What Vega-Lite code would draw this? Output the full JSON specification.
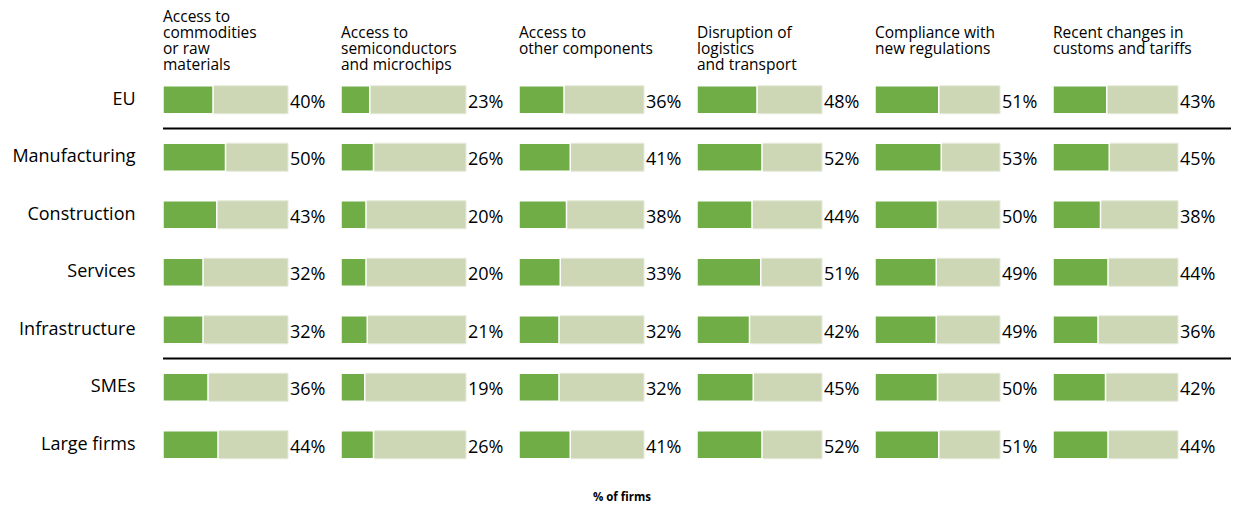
{
  "$schema": "https://vega.github.io/schema/vega-lite/v6.json",
  "padding": {"left": 11, "top": 9, "right": 0, "bottom": 2},
  "background": "white",
  "bounds": "flush",
  "title": {
    "text": "% of firms",
    "orient": "bottom",
    "anchor": "middle",
    "frame": "bounds",
    "font": "Open Sans",
    "fontSize": 11.5,
    "fontWeight": "bold",
    "color": "#000000",
    "offset": 18
  },
  "data": {
    "values": [
      {"topic": "Access to|commodities|or raw|materials", "row": "EU", "value": 0.40},
      {"topic": "Access to|commodities|or raw|materials", "row": "Manufacturing", "value": 0.50},
      {"topic": "Access to|commodities|or raw|materials", "row": "Construction", "value": 0.43},
      {"topic": "Access to|commodities|or raw|materials", "row": "Services", "value": 0.32},
      {"topic": "Access to|commodities|or raw|materials", "row": "Infrastructure", "value": 0.32},
      {"topic": "Access to|commodities|or raw|materials", "row": "SMEs", "value": 0.36},
      {"topic": "Access to|commodities|or raw|materials", "row": "Large firms", "value": 0.44},
      {"topic": "Access to|semiconductors|and microchips", "row": "EU", "value": 0.23},
      {"topic": "Access to|semiconductors|and microchips", "row": "Manufacturing", "value": 0.26},
      {"topic": "Access to|semiconductors|and microchips", "row": "Construction", "value": 0.20},
      {"topic": "Access to|semiconductors|and microchips", "row": "Services", "value": 0.20},
      {"topic": "Access to|semiconductors|and microchips", "row": "Infrastructure", "value": 0.21},
      {"topic": "Access to|semiconductors|and microchips", "row": "SMEs", "value": 0.19},
      {"topic": "Access to|semiconductors|and microchips", "row": "Large firms", "value": 0.26},
      {"topic": "Access to|other components", "row": "EU", "value": 0.36},
      {"topic": "Access to|other components", "row": "Manufacturing", "value": 0.41},
      {"topic": "Access to|other components", "row": "Construction", "value": 0.38},
      {"topic": "Access to|other components", "row": "Services", "value": 0.33},
      {"topic": "Access to|other components", "row": "Infrastructure", "value": 0.32},
      {"topic": "Access to|other components", "row": "SMEs", "value": 0.32},
      {"topic": "Access to|other components", "row": "Large firms", "value": 0.41},
      {"topic": "Disruption of|logistics|and transport", "row": "EU", "value": 0.48},
      {"topic": "Disruption of|logistics|and transport", "row": "Manufacturing", "value": 0.52},
      {"topic": "Disruption of|logistics|and transport", "row": "Construction", "value": 0.44},
      {"topic": "Disruption of|logistics|and transport", "row": "Services", "value": 0.51},
      {"topic": "Disruption of|logistics|and transport", "row": "Infrastructure", "value": 0.42},
      {"topic": "Disruption of|logistics|and transport", "row": "SMEs", "value": 0.45},
      {"topic": "Disruption of|logistics|and transport", "row": "Large firms", "value": 0.52},
      {"topic": "Compliance with|new regulations", "row": "EU", "value": 0.51},
      {"topic": "Compliance with|new regulations", "row": "Manufacturing", "value": 0.53},
      {"topic": "Compliance with|new regulations", "row": "Construction", "value": 0.50},
      {"topic": "Compliance with|new regulations", "row": "Services", "value": 0.49},
      {"topic": "Compliance with|new regulations", "row": "Infrastructure", "value": 0.49},
      {"topic": "Compliance with|new regulations", "row": "SMEs", "value": 0.50},
      {"topic": "Compliance with|new regulations", "row": "Large firms", "value": 0.51},
      {"topic": "Recent changes in|customs and tariffs", "row": "EU", "value": 0.43},
      {"topic": "Recent changes in|customs and tariffs", "row": "Manufacturing", "value": 0.45},
      {"topic": "Recent changes in|customs and tariffs", "row": "Construction", "value": 0.38},
      {"topic": "Recent changes in|customs and tariffs", "row": "Services", "value": 0.44},
      {"topic": "Recent changes in|customs and tariffs", "row": "Infrastructure", "value": 0.36},
      {"topic": "Recent changes in|customs and tariffs", "row": "SMEs", "value": 0.42},
      {"topic": "Recent changes in|customs and tariffs", "row": "Large firms", "value": 0.44}
    ]
  },
  "facet": {
    "column": {
      "field": "topic",
      "type": "nominal",
      "sort": [
        "Access to|commodities|or raw|materials",
        "Access to|semiconductors|and microchips",
        "Access to|other components",
        "Disruption of|logistics|and transport",
        "Compliance with|new regulations",
        "Recent changes in|customs and tariffs"
      ],
      "title": null,
      "header": {
        "labelOrient": "top",
        "labelAlign": "left",
        "labelAnchor": "start",
        "labelExpr": "length(split(datum.value, '|')) == 2 ? [split(datum.value, '|')[0], split(datum.value, '|')[1], ' '] : split(datum.value, '|')",
        "labelFont": "Open Sans",
        "labelFontSize": 15.5,
        "labelLineHeight": 16.3,
        "labelColor": "#000000",
        "labelPadding": -3
      }
    }
  },
  "spacing": 0,
  "resolve": {"scale": {"x": "shared", "y": "shared"}},
  "spec": {
    "width": 178,
    "height": 402.5,
    "encoding": {
      "y": {
        "field": "row",
        "type": "nominal",
        "sort": ["EU", "Manufacturing", "Construction", "Services", "Infrastructure", "SMEs", "Large firms"],
        "scale": {"paddingInner": 0, "paddingOuter": 0},
        "axis": {
          "title": null,
          "domain": false,
          "ticks": false,
          "labelFont": "Open Sans",
          "labelFontSize": 18,
          "labelColor": "#000000",
          "labelPadding": 28
        }
      }
    },
    "layer": [
      {
        "mark": {"type": "bar", "height": 28, "color": "#CDD7B5", "stroke": "#E4EADA", "strokeWidth": 1},
        "encoding": {
          "x": {"datum": 0, "type": "quantitative", "scale": {"domain": [0, 1.424], "nice": false, "zero": true}, "axis": null},
          "x2": {"datum": 1}
        }
      },
      {
        "mark": {"type": "bar", "height": 28, "color": "#70AD47", "stroke": "white", "strokeWidth": 1.5},
        "encoding": {
          "x": {"field": "value", "type": "quantitative", "axis": null},
          "x2": {"datum": 0}
        }
      },
      {
        "mark": {"type": "text", "align": "left", "baseline": "middle", "dx": 2, "dy": 3, "font": "Open Sans", "fontSize": 18, "color": "#000000"},
        "encoding": {
          "x": {"datum": 1},
          "text": {"field": "value", "type": "quantitative", "format": ".0%"}
        }
      },
      {
        "transform": [{"filter": "datum.row === 'Manufacturing' || datum.row === 'SMEs'"}],
        "mark": {"type": "rule", "color": "#000000", "strokeWidth": 2},
        "encoding": {
          "y": {"field": "row", "type": "nominal", "bandPosition": 0},
          "x": {"datum": 0},
          "x2": {"datum": 1.424}
        }
      }
    ]
  },
  "config": {
    "view": {"stroke": null},
    "font": "Open Sans"
  }
}
